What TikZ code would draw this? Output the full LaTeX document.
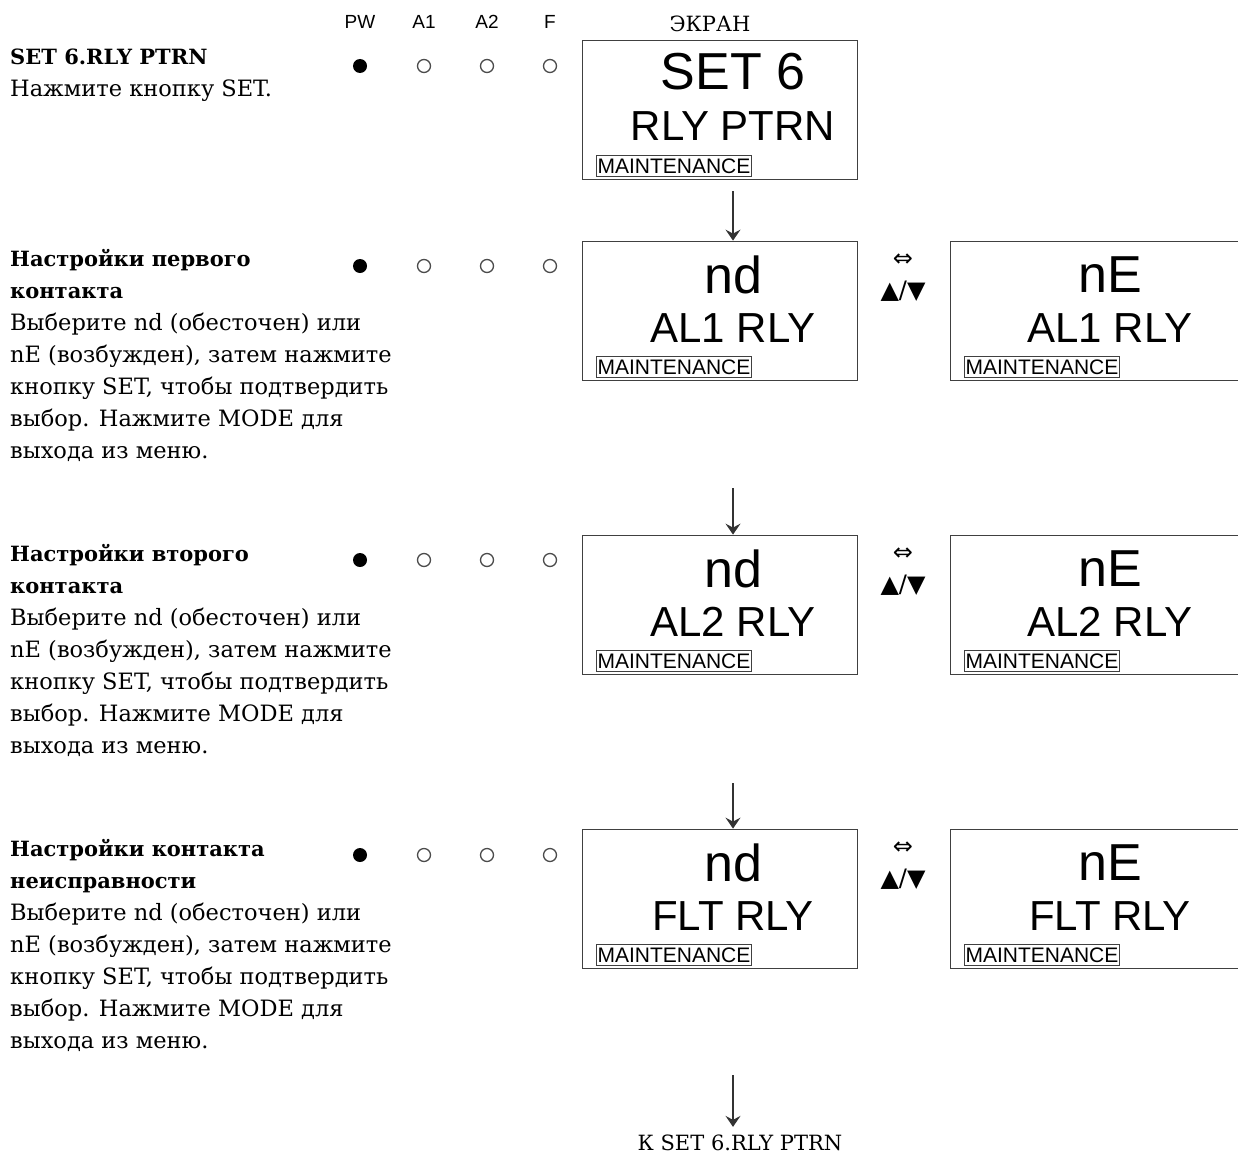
\documentclass[tikz,border=0pt]{standalone}
\usepackage{fontspec}
\setmainfont{DejaVu Serif}
\newfontfamily\lcdfont{Liberation Sans}
\newfontfamily\symfont{DejaVu Sans}
\usetikzlibrary{arrows.meta, positioning, calc}

\begin{document}
\begin{tikzpicture}[
  x=1pt, y=-1pt,
  screen/.style={rectangle, draw=black!75, line width=0.8pt,
                 minimum width=275pt, minimum height=139pt, inner sep=0pt},
  wide/.style={screen, minimum width=290pt},
  big/.style={font=\lcdfont\fontsize{52}{52}\selectfont, inner sep=0pt},
  mid/.style={font=\lcdfont\fontsize{42}{42}\selectfont, inner sep=0pt},
  maint/.style={draw=black!75, line width=0.7pt, anchor=south west,
                font=\lcdfont\fontsize{21}{21}\selectfont,
                inner xsep=1.2pt, inner ysep=3pt},
  desc/.style={anchor=north west, align=left, inner sep=0pt,
               font=\fontsize{22.5}{32}\selectfont},
  led/.style={font=\lcdfont\fontsize{19}{19}\selectfont, inner sep=0pt},
  lit/.style={circle, fill=black, minimum size=14pt, inner sep=0pt},
  unlit/.style={circle, draw=black!70, line width=1.3pt, minimum size=13pt, inner sep=0pt},
  swap/.style={font=\symfont\fontsize{24}{24}\selectfont, inner sep=0pt},
  >=Stealth,
  flow/.style={->, line width=1.3pt, black!80,
               >={Stealth[length=11pt, width=15pt, inset=4pt]}}
]
\useasboundingbox (0,0) rectangle (1238,1156);

% ── LED header ──
\node[led] (hpw) at (360,22) {PW};
\node[led] (ha1) at (424,22) {A1};
\node[led] (ha2) at (487,22) {A2};
\node[led] (hf)  at (550,22) {F};
\node[font=\fontsize{21}{21}\selectfont, inner sep=0pt] (hscr) at (710,24) {ЭКРАН};

% ── LED states per step ──
\node[lit]   (pw1) at (360,66) {};
\node[unlit] (a11) at (424,66) {};
\node[unlit] (a21) at (487,66) {};
\node[unlit] (f1)  at (550,66) {};

\node[lit]   (pw2) at (360,266) {};
\node[unlit] (a12) at (424,266) {};
\node[unlit] (a22) at (487,266) {};
\node[unlit] (f2)  at (550,266) {};

\node[lit]   (pw3) at (360,560) {};
\node[unlit] (a13) at (424,560) {};
\node[unlit] (a23) at (487,560) {};
\node[unlit] (f3)  at (550,560) {};

\node[lit]   (pw4) at (360,855) {};
\node[unlit] (a14) at (424,855) {};
\node[unlit] (a24) at (487,855) {};
\node[unlit] (f4)  at (550,855) {};

% ── Step descriptions ──
\node[desc] (t1) at (10,49) {{\fontsize{21}{32}\selectfont\textbf{SET 6.RLY PTRN}}\\Нажмите кнопку SET.};
\node[desc] (t2) at (10,249) {{\fontsize{21}{32}\selectfont\textbf{Настройки первого}}\\{\fontsize{21}{32}\selectfont\textbf{контакта}}\\Выберите nd (обесточен) или\\nE (возбужден), затем нажмите\\кнопку SET, чтобы подтвердить\\выбор. Нажмите MODE для\\выхода из меню.};
\node[desc] (t3) at (10,544) {{\fontsize{21}{32}\selectfont\textbf{Настройки второго}}\\{\fontsize{21}{32}\selectfont\textbf{контакта}}\\Выберите nd (обесточен) или\\nE (возбужден), затем нажмите\\кнопку SET, чтобы подтвердить\\выбор. Нажмите MODE для\\выхода из меню.};
\node[desc] (t4) at (10,839) {{\fontsize{21}{32}\selectfont\textbf{Настройки контакта}}\\{\fontsize{21}{32}\selectfont\textbf{неисправности}}\\Выберите nd (обесточен) или\\nE (возбужден), затем нажмите\\кнопку SET, чтобы подтвердить\\выбор. Нажмите MODE для\\выхода из меню.};

% ── Screen 1 ──
\node[screen] (scr1) at (719.5,109.5) {};
\node[big] (scr1a) at (733,72) {SET 6};
\node[mid] (scr1b) at (733,126) {RLY PTRN};
\node[maint] (scr1m) at (596,177) {MAINTENANCE};

% ── Screen 2: nd / nE ──
\node[screen] (scr2) at (719.5,310.5) {};
\node[big] (scr2a) at (733,275) {nd};
\node[mid] (scr2b) at (733,328) {AL1 RLY};
\node[maint] (scr2m) at (596,378) {MAINTENANCE};

\node[wide] (alt2) at (1095,310.5) {};
\node[big] (alt2a) at (1110,275) {nE};
\node[mid] (alt2b) at (1110,328) {AL1 RLY};
\node[maint] (alt2m) at (964,378) {MAINTENANCE};

\node[swap] (sw2) at (903,260) {⇔};
\node[swap] (kb2) at (903,291) {▲/▼};

% ── Screen 3 ──
\node[screen] (scr3) at (719.5,604.5) {};
\node[big] (scr3a) at (733,569) {nd};
\node[mid] (scr3b) at (733,622) {AL2 RLY};
\node[maint] (scr3m) at (596,672) {MAINTENANCE};

\node[wide] (alt3) at (1095,604.5) {};
\node[big] (alt3a) at (1110,569) {nE};
\node[mid] (alt3b) at (1110,622) {AL2 RLY};
\node[maint] (alt3m) at (964,672) {MAINTENANCE};

\node[swap] (sw3) at (903,554) {⇔};
\node[swap] (kb3) at (903,585) {▲/▼};

% ── Screen 4 ──
\node[screen] (scr4) at (719.5,898.5) {};
\node[big] (scr4a) at (733,863) {nd};
\node[mid] (scr4b) at (733,916) {FLT RLY};
\node[maint] (scr4m) at (596,966) {MAINTENANCE};

\node[wide] (alt4) at (1095,898.5) {};
\node[big] (alt4a) at (1110,863) {nE};
\node[mid] (alt4b) at (1110,916) {FLT RLY};
\node[maint] (alt4m) at (964,966) {MAINTENANCE};

\node[swap] (sw4) at (903,848) {⇔};
\node[swap] (kb4) at (903,879) {▲/▼};

% ── Flow arrows ──
\node[font=\fontsize{21}{21}\selectfont, inner sep=0pt] (back) at (740,1143) {К SET 6.RLY PTRN};

\coordinate (f12) at (733,191);
\coordinate (f23) at (733,488);
\coordinate (f34) at (733,783);
\coordinate (f45) at (733,1075);

\draw[flow] (f12) -- (scr2.north -| f12);
\draw[flow] (f23) -- (scr3.north -| f23);
\draw[flow] (f34) -- (scr4.north -| f34);
\draw[flow] (f45) -- ($(back.north -| f45)+(0,-8)$);

\end{tikzpicture}
\end{document}
